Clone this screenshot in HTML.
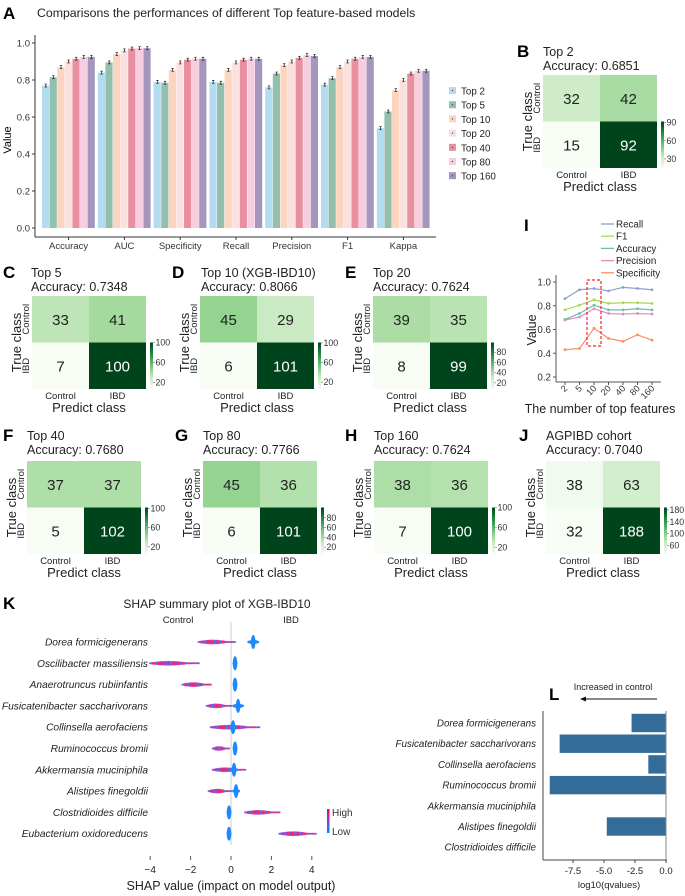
<!DOCTYPE html>
<html><head><meta charset="utf-8">
<style>
html,body{margin:0;padding:0;background:#fff;}
svg{display:block;font-family:"Liberation Sans",Arial,sans-serif;}
.it{font-style:italic;}
</style></head>
<body>
<svg id="fig" width="685" height="896" viewBox="0 0 685 896" xmlns="http://www.w3.org/2000/svg">
<defs>
<linearGradient id="gGreens" x1="0" y1="1" x2="0" y2="0">
<stop offset="0" stop-color="#f7fcf5"/><stop offset="0.25" stop-color="#c7e9c0"/><stop offset="0.5" stop-color="#74c476"/><stop offset="0.75" stop-color="#238b45"/><stop offset="1" stop-color="#00441b"/>
</linearGradient>
<linearGradient id="gShap" x1="0" y1="1" x2="0" y2="0">
<stop offset="0" stop-color="#008bfb"/><stop offset="0.5" stop-color="#8a3ce0"/><stop offset="1" stop-color="#ff0052"/>
</linearGradient>
</defs>
</svg>
<script>
// ---------- Panel A data ----------
const metricNames = ["Accuracy","AUC","Specificity","Recall","Precision","F1","Kappa"];
const modelNames = ["Top 2","Top 5","Top 10","Top 20","Top 40","Top 80","Top 160"];
const modelColors = ["#b3dcf0","#93c0ad","#fcd5c1","#fbe0e0","#e8909f","#f7cde0","#a596bd"];
const valTop2 = [0.77,0.84,0.79,0.79,0.76,0.775,0.54];
const valTop5 = [0.815,0.895,0.785,0.785,0.835,0.81,0.63];
const valTop10 = [0.87,0.94,0.855,0.855,0.88,0.87,0.745];
const valTop20 = [0.90,0.96,0.895,0.895,0.90,0.90,0.80];
const valTop40 = [0.915,0.97,0.91,0.91,0.92,0.915,0.835];
const valTop80 = [0.925,0.972,0.915,0.915,0.935,0.925,0.85];
const valTop160 = [0.925,0.972,0.915,0.915,0.93,0.925,0.85];
const aTicks = [0,0.2,0.4,0.6,0.8,1.0];
// ---------- Panel I data ----------
const iCats = ["2","5","10","20","40","80","160"];
const iSeriesNames = ["Recall","F1","Accuracy","Precision","Specificity"];
const iColors = ["#8da0cb","#a6d854","#66c2a5","#e78ac3","#fc8d62"];
const iRecall = [0.86,0.935,0.945,0.925,0.955,0.945,0.935];
const iF1 = [0.765,0.805,0.85,0.82,0.825,0.825,0.82];
const iAccuracy = [0.685,0.735,0.805,0.765,0.765,0.775,0.765];
const iPrecision = [0.68,0.705,0.775,0.735,0.73,0.735,0.73];
const iSpecificity = [0.43,0.44,0.61,0.525,0.50,0.555,0.51];
const iTicks = [0.2,0.4,0.6,0.8,1.0];
// ---------- Confusion matrices ----------
const cmLetters = ["B","C","D","E","F","G","H","J"];
const cmTitles = ["Top 2","Top 5","Top 10 (XGB-IBD10)","Top 20","Top 40","Top 80","Top 160","AGPIBD cohort"];
const cmAcc = ["0.6851","0.7348","0.8066","0.7624","0.7680","0.7766","0.7624","0.7040"];
const cmValues = [[32,42,15,92],[33,41,7,100],[45,29,6,101],[39,35,8,99],[37,37,5,102],[45,36,6,101],[38,36,7,100],[38,63,32,188]];
const cmTicks = [[30,60,90],[20,60,100],[20,60,100],[20,40,60,80],[20,60,100],[20,40,60,80],[20,60,100],[60,100,140,180]];
// ---------- Panel K data ----------
const kFeatures = ["Dorea formicigenerans","Oscilibacter massiliensis","Anaerotruncus rubiinfantis","Fusicatenibacter saccharivorans","Collinsella aerofaciens","Ruminococcus bromii","Akkermansia muciniphila","Alistipes finegoldii","Clostridioides difficile","Eubacterium oxidoreducens"];
const kHighLo = [-1.6,-4.0,-2.4,-1.2,-1.0,-0.9,-0.9,-1.1,0.7,2.4];
const kHighHi = [0.2,-1.6,-1.0,0.0,1.4,-0.1,0.7,0.0,2.4,4.2];
const kLowCenter = [1.1,0.2,0.2,0.35,0.1,0.2,0.15,0.25,-0.1,-0.1];
const kLowSpread = [0.3,0.1,0.1,0.3,0.2,0.1,0.2,0.2,0.1,0.1];
const kTicks = [-4,-2,0,2,4];
// ---------- Panel L data ----------
const lFeatures = ["Dorea formicigenerans","Fusicatenibacter saccharivorans","Collinsella aerofaciens","Ruminococcus bromii","Akkermansia muciniphila","Alistipes finegoldii","Clostridioides difficile"];
const lValues = [-2.8,-8.6,-1.45,-9.4,0,-4.8,0];
const lTicks = [-7.5,-5.0,-2.5,0.0];

const svg = document.getElementById('fig');
const NS = "http://www.w3.org/2000/svg";
function mk(tag, attrs, parent){ const e=document.createElementNS(NS,tag); for(const k in attrs) e.setAttribute(k,attrs[k]); (parent||svg).appendChild(e); return e; }
function txt(s, attrs, parent){ const e=mk('text',attrs,parent); e.textContent=s; return e; }

// ===== Panel A =====
const gA = mk('g',{});


let t = txt('A',{x:3,y:19,'font-size':17,'font-weight':'bold'},gA);
 
t = txt('Comparisons the performances of different Top feature-based models',{x:37,y:17,'font-size':12.3,fill:'#222'},gA);
 
const aY = v => 228 - v*185;
const aGroupX = i => 42 + i*55.8;
const aBarW = 7.6;
const allVals = [valTop2,valTop5,valTop10,valTop20,valTop40,valTop80,valTop160];
mk('line',{x1:35,y1:35,x2:35,y2:237,stroke:'#333','stroke-width':1},gA);
mk('line',{x1:35,y1:237,x2:436,y2:237,stroke:'#333','stroke-width':1},gA);
aTicks.forEach(v=>{
  mk('line',{x1:32,y1:aY(v),x2:35,y2:aY(v),stroke:'#333'},gA);
  const e=txt(v.toFixed(1),{x:30,y:aY(v)+3.5,'font-size':9.5,'text-anchor':'end',fill:'#333'},gA);
   
});
t = txt('Value',{x:0,y:0,'font-size':11,'text-anchor':'middle',transform:'translate(11,140) rotate(-90)'},gA);
 
metricNames.forEach((m,i)=>{
  allVals.forEach((arr,j)=>{
    const x = aGroupX(i)+j*aBarW, v=arr[i];
    const r = mk('rect',{x:x,y:aY(v),width:aBarW-0.4,height:aY(0)-aY(v),fill:modelColors[j]},gA);
    
    
    const cx=x+aBarW/2, e=0.008;
    mk('line',{x1:cx,y1:aY(v+e),x2:cx,y2:aY(v-e),stroke:'#222','stroke-width':0.7},gA);
    mk('line',{x1:cx-1.2,y1:aY(v+e),x2:cx+1.2,y2:aY(v+e),stroke:'#222','stroke-width':0.7},gA);
    mk('line',{x1:cx-1.2,y1:aY(v-e),x2:cx+1.2,y2:aY(v-e),stroke:'#222','stroke-width':0.7},gA);
  });
  const lx = aGroupX(i)+3.5*aBarW;
  mk('line',{x1:lx,y1:237,x2:lx,y2:240,stroke:'#333'},gA);
  const e=txt(m,{x:lx,y:249,'font-size':9.5,'text-anchor':'middle',fill:'#333'},gA);
   
});
modelNames.forEach((n,j)=>{
  const y = 91 + j*14.2;
  const r = mk('rect',{x:449,y:y-4,width:7,height:7,fill:modelColors[j]},gA);
   
  mk('circle',{cx:452.5,cy:y-0.5,r:0.6,fill:'#333'},gA);
  const e=txt(n,{x:461,y:y+3.5,'font-size':9.8,fill:'#222'},gA);
   
});

// ===== Confusion matrices =====
const cmPos = [[517,543,56,543,75],[3,31,277,32,296],[172,201,277,200,296],[345,373,277,373,296],[3,27,440,27,461],[175,203,440,203,461],[345,374,440,374,461],[519,546,440,546,461]];
const greensStops = [[247,252,245],[229,245,224],[199,233,192],[161,217,155],[116,196,118],[65,171,93],[35,139,69],[0,109,44],[0,68,27]];
function greens(tv){ tv=Math.max(0,Math.min(1,tv)); const p=tv*8, i=Math.min(7,Math.floor(p)), f=p-i; const a=greensStops[i], b=greensStops[i+1]; return 'rgb('+a.map((c,k)=>Math.round(c+(b[k]-c)*f)).join(',')+')'; }
cmLetters.forEach((L,p)=>{
  const [lx,tx,ty,mx,my] = cmPos[p];
  const g = mk('g',{});
  
  
  let e = txt(L,{x:lx,y:ty+1,'font-size':17,'font-weight':'bold'},g);
   
  e = txt(cmTitles[p],{x:tx,y:ty,'font-size':12.5,fill:'#222'},g);
   
  e = txt('Accuracy: '+cmAcc[p],{x:tx,y:ty+14,'font-size':12.5,fill:'#222'},g);
   
  const w=114, h=93, vals=cmValues[p];
  const vmin=Math.min(...vals), vmax=Math.max(...vals);
  vals.forEach((v,k)=>{
    const cx = mx + (k%2)*w/2, cy = my + Math.floor(k/2)*h/2;
    const tv=(v-vmin)/(vmax-vmin);
    const r = mk('rect',{x:cx,y:cy,width:w/2,height:h/2,fill:greens(tv)},g);
     
    const n = txt(String(v),{x:cx+w/4,y:cy+h/4+5.5,'font-size':15,'text-anchor':'middle',fill:tv>0.6?'#fff':'#222'},g);
     
  });
  const bx=mx+w+4, by0=my+h/2, by1=my+h;
  const cb = mk('rect',{x:bx,y:by0,width:3,height:h/2,fill:'url(#gGreens)'},g);
   
  cmTicks[p].forEach(tk=>{
    const yy = by1 - (tk-vmin)/(vmax-vmin)*(h/2);
    mk('line',{x1:bx+3,y1:yy,x2:bx+5,y2:yy,stroke:'#555','stroke-width':0.5},g);
    const c=txt(String(tk),{x:bx+5.5,y:yy+3,'font-size':8.8,fill:'#333'},g);
     
  });
  e=txt('Control',{x:mx+w/4,y:my+h+10,'font-size':9.5,'text-anchor':'middle',fill:'#222'},g);
   
  e=txt('IBD',{x:mx+3*w/4,y:my+h+10,'font-size':9.5,'text-anchor':'middle',fill:'#222'},g);
   
  e=txt('Predict class',{x:mx+w/2,y:my+h+23,'font-size':13,'text-anchor':'middle',fill:'#222'},g);
   
  e=txt('True class',{x:0,y:0,'font-size':13,'text-anchor':'middle',fill:'#222',transform:'translate('+(mx-11)+','+(my+h/2)+') rotate(-90)'},g);
   
  e=txt('Control',{x:0,y:0,'font-size':9.5,'text-anchor':'middle',fill:'#222',transform:'translate('+(mx-3)+','+(my+h/4)+') rotate(-90)'},g);
   
  e=txt('IBD',{x:0,y:0,'font-size':9.5,'text-anchor':'middle',fill:'#222',transform:'translate('+(mx-3)+','+(my+3*h/4)+') rotate(-90)'},g);
   
});

// ===== Panel I =====
const gI = mk('g',{});


t = txt('I',{x:524,y:231,'font-size':17,'font-weight':'bold'},gI);
 
const iY = v => 282 + (1.0-v)/0.2*23.75;
const iX = k => 565 + k*14.5;
const iAll = [iRecall,iF1,iAccuracy,iPrecision,iSpecificity];
iSeriesNames.forEach((n,s)=>{
  const y = 224 + s*12.2;
  mk('line',{x1:601,y1:y,x2:614,y2:y,stroke:iColors[s],'stroke-width':1.3},gI);
  const e=txt(n,{x:616,y:y+3.5,'font-size':9.8,fill:'#222'},gI);
   
});
mk('line',{x1:556,y1:275,x2:556,y2:382,stroke:'#555'},gI);
mk('line',{x1:556,y1:382,x2:661,y2:382,stroke:'#555'},gI);
iTicks.forEach(v=>{
  mk('line',{x1:553,y1:iY(v),x2:556,y2:iY(v),stroke:'#555'},gI);
  const e=txt(v.toFixed(1),{x:551,y:iY(v)+3.5,'font-size':9.8,'text-anchor':'end',fill:'#333'},gI);
   
});
iCats.forEach((c,k)=>{
  mk('line',{x1:iX(k),y1:382,x2:iX(k),y2:385,stroke:'#555'},gI);
  const e=txt(c,{x:0,y:0,'font-size':9,'text-anchor':'end',fill:'#333',transform:'translate('+(iX(k)+3)+',389) rotate(-45)'},gI);
   
});
t=txt('Value',{x:0,y:0,'font-size':12.5,'text-anchor':'middle',fill:'#222',transform:'translate(536,330) rotate(-90)'},gI);
 
t=txt('The number of top features',{x:600,y:413,'font-size':12.5,'text-anchor':'middle',fill:'#222'},gI);
 
iAll.forEach((arr,s)=>{
  const pl = mk('polyline',{points:arr.map((v,k)=>iX(k)+','+iY(v)).join(' '),fill:'none',stroke:iColors[s],'stroke-width':1.2},gI);
  
  
  arr.forEach((v,k)=>{ mk('circle',{cx:iX(k),cy:iY(v),r:1.4,fill:iColors[s]},gI); });
});
const hl = mk('rect',{x:iX(2)-7,y:280,width:14,height:66,fill:'none',stroke:'#ff2020','stroke-width':1.2,'stroke-dasharray':'3,2'},gI);
 

// ===== Panel K =====
const gK = mk('g',{});


t=txt('K',{x:3,y:609,'font-size':17,'font-weight':'bold'},gK);
 
t=txt('SHAP summary plot of XGB-IBD10',{x:217,y:608,'font-size':12,'text-anchor':'middle',fill:'#222'},gK);
 
t=txt('Control',{x:178,y:623,'font-size':9.5,'text-anchor':'middle',fill:'#222'},gK);
 
t=txt('IBD',{x:291,y:623,'font-size':9.5,'text-anchor':'middle',fill:'#222'},gK);
 
const kX = u => 231 + u*20.2;
const kRowY = i => 642 + i*21.3;
mk('line',{x1:kX(0),y1:622,x2:kX(0),y2:845,stroke:'#ddd','stroke-width':1.5},gK);
kFeatures.forEach((f,i)=>{
  const y=kRowY(i);
  const e=txt(f,{x:148,y:y+3.5,'font-size':10.2,'text-anchor':'end',fill:'#222',class:'it'},gK);
   
  const a=kX(kHighLo[i]), b=kX(kHighHi[i]);
  const n=Math.max(8,Math.round((b-a)/1.2));
  for(let k=0;k<n;k++){
    const x=a+(b-a)*k/(n-1);
    const mid=(k/(n-1));
    const thick = 1.4*Math.sin(Math.PI*Math.min(1,mid*1.3));
    const col = (k%3===0)?'#7b3fe4':((k%4===1)?'#3a7bff':'#ff1a5e');
    mk('ellipse',{cx:x,cy:y,rx:1.2,ry:1+Math.max(0,thick),fill:col,opacity:0.85},gK);
  }
  const c=kX(kLowCenter[i]), sp=kLowSpread[i]*20.2;
  const cl = mk('ellipse',{cx:c,cy:y,rx:Math.max(2.5,sp),ry:2,fill:'#1e88ff'},gK);
   
  mk('ellipse',{cx:c,cy:y,rx:2.3,ry:7,fill:'#1e88ff'},gK);
});
kTicks.forEach(v=>{
  mk('line',{x1:kX(v),y1:856,x2:kX(v),y2:860,stroke:'#555'},gK);
  const e=txt(String(v).replace('-','\u2212'),{x:kX(v),y:873,'font-size':10,'text-anchor':'middle',fill:'#222'},gK);
   
});
t=txt('SHAP value (impact on model output)',{x:231,y:890,'font-size':12.5,'text-anchor':'middle',fill:'#222'},gK);
 
const sb=mk('rect',{x:327,y:809,width:2.5,height:24,fill:'url(#gShap)'},gK);
 
t=txt('High',{x:332,y:816,'font-size':10,fill:'#333'},gK);
 
t=txt('Low',{x:332,y:835,'font-size':10,fill:'#333'},gK);
 

// ===== Panel L =====
const gL = mk('g',{});


t=txt('L',{x:549,y:700,'font-size':17,'font-weight':'bold'},gL);
 
t=txt('Increased in control',{x:613,y:690,'font-size':9,'text-anchor':'middle',fill:'#222'},gL);
 
mk('line',{x1:657,y1:699,x2:583,y2:699,stroke:'#111','stroke-width':1},gL);
mk('path',{d:'M580,699 L586,696.5 L586,701.5 Z',fill:'#111'},gL);
const lX = v => 666 + v*12.4;
const lRowY = i => 723 + i*20.7;
mk('line',{x1:543,y1:711,x2:543,y2:860,stroke:'#444'},gL);
mk('line',{x1:543,y1:860,x2:667,y2:860,stroke:'#444'},gL);
lFeatures.forEach((f,i)=>{
  const y=lRowY(i);
  if(lValues[i]!==0){
    const r=mk('rect',{x:lX(lValues[i]),y:y-9.5,width:lX(0)-lX(lValues[i]),height:19,fill:'#336b99',stroke:'#fff','stroke-width':0.6},gL);
    
    
  }
  const e=txt(f,{x:536,y:y+3.5,'font-size':9.8,'text-anchor':'end',fill:'#222',class:'it'},gL);
   
});
mk('line',{x1:666,y1:711,x2:666,y2:860,stroke:'#888'},gL);
lTicks.forEach(v=>{
  mk('line',{x1:lX(v),y1:860,x2:lX(v),y2:863,stroke:'#444'},gL);
  const e=txt(v.toFixed(1),{x:lX(v),y:874,'font-size':9.5,'text-anchor':'middle',fill:'#222'},gL);
   
});
t=txt('log10(qvalues)',{x:609,y:888,'font-size':9.5,'text-anchor':'middle',fill:'#222'},gL);
 
</script>
</body></html>
